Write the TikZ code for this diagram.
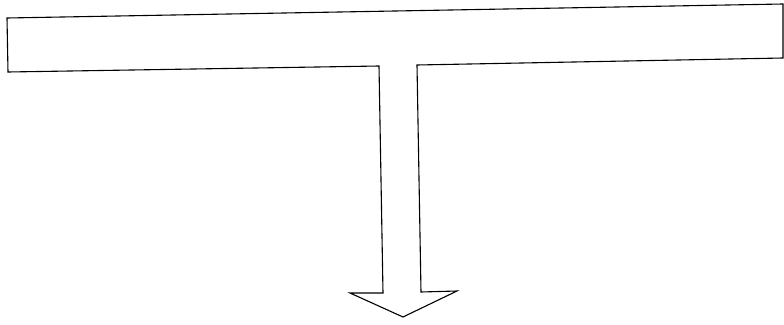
\documentclass[tikz,border=0pt]{standalone}
\usetikzlibrary{calc}
\tikzset{
  outline/.style={draw=black, line width=1.1pt, line join=miter, fill=white},
}
\begin{document}
\begin{tikzpicture}[x=1pt, y=-1pt]
  \useasboundingbox (0,0) rectangle (784,324);
  % bar with the stem and the arrow head, one outline
  \coordinate (barTL) at (7,18);
  \coordinate (barTR) at (783,4);
  \coordinate (barBR) at (783,58);
  \coordinate (stemTR) at (417,65);
  \coordinate (stemBR) at (421,292);
  \coordinate (headR) at (457,291);
  \coordinate (tip) at (403,317);
  \coordinate (headL) at (350,293);
  \coordinate (stemBL) at (383,293);
  \coordinate (stemTL) at (379,66);
  \coordinate (barBL) at (8,72);
  \draw[outline] (barTL) -- (barTR) -- (barBR) -- (stemTR) -- (stemBR) -- (headR)
    -- (tip) -- (headL) -- (stemBL) -- (stemTL) -- (barBL) -- cycle;
\end{tikzpicture}
\end{document}
